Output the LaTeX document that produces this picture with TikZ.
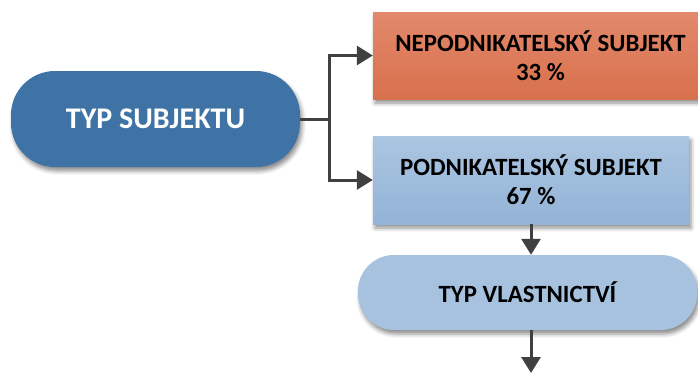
\documentclass[tikz,border=0pt]{standalone}
\usepackage{fontspec}
\setmainfont{Carlito}
\usetikzlibrary{arrows.meta,shadows.blur,calc}
\definecolor{darkblue}{HTML}{3F73A5}
\definecolor{orangetop}{HTML}{E2896C}
\definecolor{orangebot}{HTML}{D8704C}
\definecolor{lbtop}{HTML}{ABC6E1}
\definecolor{lbbot}{HTML}{93B3D7}
\definecolor{lbflat}{HTML}{A6C2DF}
\definecolor{arrgray}{HTML}{404040}
\tikzset{
  shad/.style={blur shadow={shadow xshift=2pt,shadow yshift=-4pt,shadow blur radius=4pt,shadow opacity=45}},
  txt/.style={font=\bfseries\fontsize{24.8}{29}\selectfont,align=center,inner sep=0pt},
  pillbig/.style={shad,fill=darkblue,rounded corners=44pt,minimum width=289pt,minimum height=96pt,txt,text=white,font=\bfseries\fontsize{30}{33}\selectfont},
  boxorange/.style={shad,top color=orangetop,bottom color=orangebot,minimum width=335pt,minimum height=87pt,txt},
  boxblue/.style={shad,top color=lbtop,bottom color=lbbot,minimum width=316pt,minimum height=88pt,txt},
  pillsmall/.style={shad,fill=lbflat,rounded corners=36pt,minimum width=339pt,minimum height=75pt,txt},
  arr/.style={draw=arrgray,line width=3pt,-{Triangle[length=16pt,width=19pt]}},
  ln/.style={draw=arrgray,line width=3pt}
}
\begin{document}
\begin{tikzpicture}[x=1pt,y=-1pt]
\useasboundingbox (0,0) rectangle (698,373);
\node[pillbig] (p1) at (155.5,119) {TYP SUBJEKTU};
\node[boxorange] (r1) at (540.5,55.5) {NEPODNIKATELSKÝ SUBJEKT\\33 \%};
\node[boxblue] (r2) at (531,180) {PODNIKATELSKÝ SUBJEKT\\67 \%};
\node[pillsmall] (p2) at (527.5,292.5) {TYP VLASTNICTVÍ};
\coordinate (j) at (329,119);
\coordinate (e) at (531,373);
\draw[ln] (p1.east) -- (j);
\draw[arr] (j) |- (r1.west);
\draw[arr] (j) |- (r2.west);
\draw[arr] (r2.south) -- (r2.south |- p2.north);
\draw[arr] (r2.south |- p2.south) -- (e);
\end{tikzpicture}
\end{document}
